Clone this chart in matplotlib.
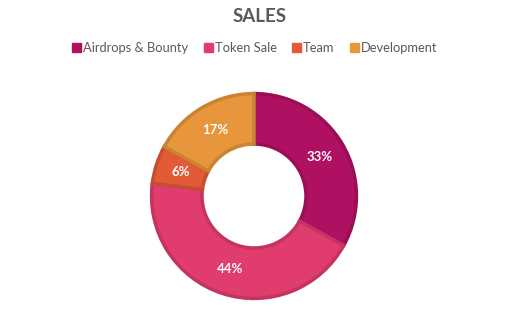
import matplotlib.pyplot as plt
import matplotlib.colors as mcolors

plt.rcParams['font.family'] = ['Lato', 'DejaVu Sans']

labels = ["Airdrops & Bounty", "Token Sale", "Team", "Development"]
values = [33, 44, 6, 17]
colors = ["#B01062", "#E03C6E", "#E25A36", "#E8963B"]


def darker(c, f=0.87):
    r, g, b = mcolors.to_rgb(c)
    return (r * f, g * f, b * f)


fig = plt.figure(figsize=(5.2, 3.28), dpi=100)
fig.patch.set_facecolor("white")

# donut axes, centre around (254, 196) px, radius ~104 px
r_px = 104
cx, cy = 254, 196
ax = fig.add_axes([(cx - r_px) / 520, (328 - cy - r_px) / 328, 2 * r_px / 520, 2 * r_px / 328])

wedges, texts, autotexts = ax.pie(values, colors=colors, startangle=90, counterclock=False,
                                  radius=0.985, autopct="%d%%", pctdistance=0.75,
                                  wedgeprops=dict(width=0.485, linewidth=2.5),
                                  textprops=dict(color="white", fontsize=9.5, fontweight="bold"))
for w, c in zip(wedges, colors):
    w.set_edgecolor(darker(c))
ax.set_xlim(-1, 1)
ax.set_ylim(-1, 1)
ax.set_aspect("equal")

fig.text(0.5, 1 - 17 / 328, "SALES", ha="center", va="center", fontsize=13.5,
         fontweight="bold", color="#595959")

handles = [plt.Rectangle((0, 0), 1, 1, color=c) for c in colors]
fig.legend(handles, labels, loc="center", bbox_to_anchor=(0.49, 1 - 48 / 328), ncol=4,
           frameon=False, fontsize=9.3, handlelength=0.7, handleheight=0.7,
           handletextpad=0.15, columnspacing=1.2, labelcolor="#595959")

fig.savefig("out.png", dpi=100)
